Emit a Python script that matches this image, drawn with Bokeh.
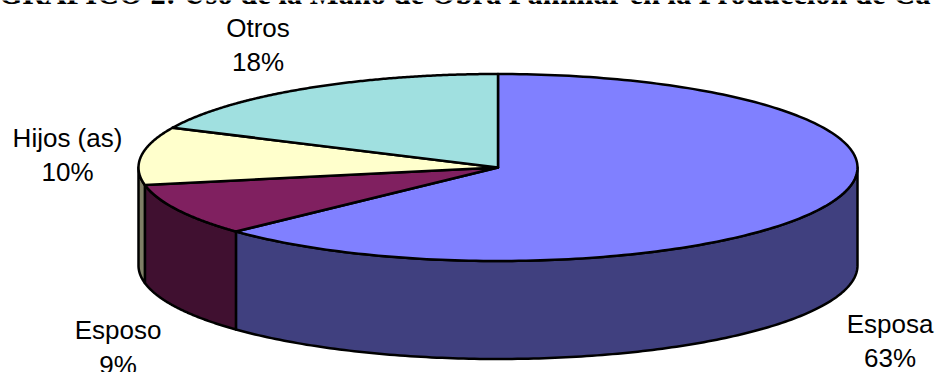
import numpy as np
from bokeh.core.properties import value
from bokeh.embed import file_html
from bokeh.models import Range1d
from bokeh.plotting import figure
from bokeh.resources import INLINE

# Shares of family labour, clockwise from twelve o'clock
categories = ["Esposa", "Esposo", "Hijos (as)", "Otros"]
shares = [63, 9, 10, 18]
top_colors = ["#8080FF", "#802060", "#FFFFCC", "#A0E0E0"]
side_colors = ["#40407F", "#401030", "#7F7F66", "#507070"]
title_text = "GRÁFICO 2: Uso de la Mano de Obra Familiar en la Producción de Ca"

# Tilted disc geometry, in page pixels
CX, CY, RX, RY, DEPTH = 497.5, 167.0, 359.5, 93.5, 98.0
FONT = "Liberation Sans"

label_x = [889.5, 117.5, 67, 257.5]
label_name_y = [323, 329, 137, 27]
label_pct_y = [357, 364, 171, 61]


def rim(t):
    """Point on the upper rim for a clockwise angle in radians from the top."""
    return CX + RX * np.sin(t), CY - RY * np.cos(t)


p = figure(width=935, height=372, output_backend="svg", toolbar_location=None,
           x_range=Range1d(0, 935), y_range=Range1d(372, 0), min_border=0,
           outline_line_color=None, background_fill_color="white",
           border_fill_color="white")
p.axis.visible = False
p.grid.visible = False

edges = np.radians(np.concatenate([[0], np.cumsum(shares)]) * 3.6)

# Outer wall: only the part of each slice facing the viewer (90 to 270 degrees)
for i in range(len(shares)):
    a, b = max(edges[i], np.pi / 2), min(edges[i + 1], 3 * np.pi / 2)
    if b <= a:
        continue
    t = np.linspace(a, b, 160)
    x, y = rim(t)
    p.patch(np.r_[x, x[::-1]], np.r_[y, y[::-1] + DEPTH],
            fill_color=side_colors[i], line_color="black", line_width=2.5,
            line_join="round")

# Upper face
for i in range(len(shares)):
    t = np.linspace(edges[i], edges[i + 1], 200)
    x, y = rim(t)
    p.patch(np.r_[CX, x], np.r_[CY, y], fill_color=top_colors[i],
            line_color="black", line_width=2.5, line_join="round")

# Slice labels
p.text(label_x, label_name_y, text=categories, text_font=value(FONT),
       text_font_size="26px", text_color="black", text_align="center",
       text_baseline="middle")
p.text(label_x, label_pct_y, text=[f"{s}%" for s in shares], text_font=value(FONT),
       text_font_size="26px", text_color="black", text_align="center",
       text_baseline="middle")

# Heading, sitting against the top edge of the page
p.text([-1.7], [-7], text=[title_text], text_font=value("Liberation Serif"),
       text_font_size="30.5px", text_font_style="bold", text_color="black",
       text_align="left", text_baseline="middle")

open("out.html", "w").write(file_html(p, INLINE))
